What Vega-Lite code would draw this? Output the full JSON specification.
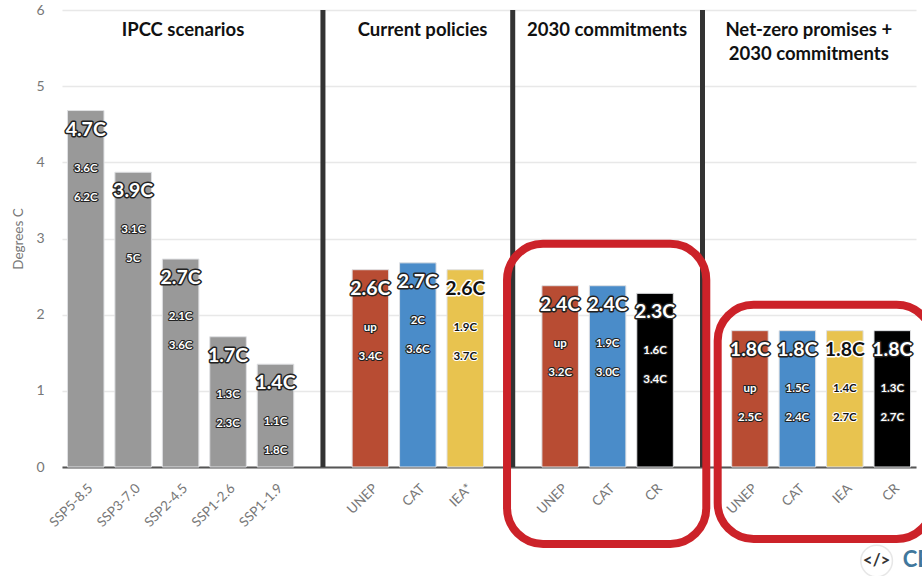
{
"$schema":"https://vega.github.io/schema/vega-lite/v6.json",
"width":854,"height":457,
"autosize":{"type":"none"},
"padding":{"left":62,"right":6,"top":10,"bottom":109},
"background":"white",
"config":{"view":{"stroke":null},"font":"Lato"},
"datasets":{
"bars":[
{"key":"ipcc|SSP5-8.5","src":"IPCC","v":4.68,"best":"4.7C","low":"3.6C","high":"6.2C"},
{"key":"ipcc|SSP3-7.0","src":"IPCC","v":3.87,"best":"3.9C","low":"3.1C","high":"5C"},
{"key":"ipcc|SSP2-4.5","src":"IPCC","v":2.73,"best":"2.7C","low":"2.1C","high":"3.6C"},
{"key":"ipcc|SSP1-2.6","src":"IPCC","v":1.71,"best":"1.7C","low":"1.3C","high":"2.3C"},
{"key":"ipcc|SSP1-1.9","src":"IPCC","v":1.35,"best":"1.4C","low":"1.1C","high":"1.8C"},
{"key":"cp|UNEP","src":"UNEP","v":2.59,"best":"2.6C","low":"up","high":"3.4C"},
{"key":"cp|CAT","src":"CAT","v":2.68,"best":"2.7C","low":"2C","high":"3.6C"},
{"key":"cp|IEA*","src":"IEA","v":2.59,"best":"2.6C","low":"1.9C","high":"3.7C"},
{"key":"c30|UNEP","src":"UNEP","v":2.38,"best":"2.4C","low":"up","high":"3.2C"},
{"key":"c30|CAT","src":"CAT","v":2.38,"best":"2.4C","low":"1.9C","high":"3.0C"},
{"key":"c30|CR","src":"CR","v":2.28,"best":"2.3C","low":"1.6C","high":"3.4C"},
{"key":"nz|UNEP","src":"UNEP","v":1.79,"best":"1.8C","low":"up","high":"2.5C"},
{"key":"nz|CAT","src":"CAT","v":1.79,"best":"1.8C","low":"1.5C","high":"2.4C"},
{"key":"nz|IEA","src":"IEA","v":1.79,"best":"1.8C","low":"1.4C","high":"2.7C"},
{"key":"nz|CR","src":"CR","v":1.79,"best":"1.8C","low":"1.3C","high":"2.7C"}
],
"seps":[{"key":"s1|","lo":0,"hi":6},{"key":"s2|","lo":0,"hi":6},{"key":"s3|","lo":0,"hi":6}],
"titles":[
{"p":2.05,"y":5.74,"t":"IPCC scenarios"},
{"p":7.1,"y":5.74,"t":"Current policies"},
{"p":10.99,"y":5.74,"t":"2030 commitments"},
{"p":15.24,"y":5.74,"t":"Net-zero promises +"},
{"p":15.24,"y":5.42,"t":"2030 commitments"}
],
"boxes":[
{"x0":8.88,"x1":13.08,"y0":-1.01,"y1":2.93},
{"x0":13.32,"x1":17.85,"y0":-0.945,"y1":2.13}
],
"logoMark":[{"p":16.67,"y":-1.234,"t":"</>"}],
"logoText":[{"p":17.22,"y":-1.225,"t":"CB"}]
},
"resolve":{"scale":{"x":"independent"}},
"layer":[
{"encoding":{
 "x":{"field":"key","type":"nominal","sort":null,"scale":{"domain":["ipcc|SSP5-8.5","ipcc|SSP3-7.0","ipcc|SSP2-4.5","ipcc|SSP1-2.6","ipcc|SSP1-1.9","s1|","cp|UNEP","cp|CAT","cp|IEA*","s2|","c30|UNEP","c30|CAT","c30|CR","s3|","nz|UNEP","nz|CAT","nz|IEA","nz|CR"],"paddingInner":0.23,"paddingOuter":0.115},
  "axis":{"title":null,"labelAngle":-45,"labelExpr":"split(datum.label,'|')[1]","ticks":false,"labelPadding":14,"labelFontSize":13.5,"labelColor":"#777","domainColor":"#555","domainWidth":2,"grid":false,"labelFont":"Lato"}}
 },
 "layer":[
 {"data":{"name":"bars"},"mark":{"type":"bar","stroke":"#dfe0e3","strokeWidth":1},
  "encoding":{
   "y":{"field":"v","type":"quantitative","scale":{"domain":[0,6],"nice":false},
    "axis":{"title":"Degrees C","titleColor":"#777","titleFontSize":13.5,"titleFontWeight":"normal","titlePadding":10,"values":[0,1,2,3,4,5,6],"format":"d","domain":false,"ticks":false,"labelPadding":18,"labelFontSize":14,"labelColor":"#777","gridColor":"#e8e8e8","gridWidth":1.5}},
   "color":{"field":"src","type":"nominal","legend":null,"scale":{"domain":["IPCC","UNEP","CAT","IEA","CR"],"range":["#999999","#b84c33","#4a8cc9","#e8c34f","#000000"]}}
  }},
 {"data":{"name":"seps"},"mark":{"type":"rule","color":"#333333","strokeWidth":5},
  "encoding":{"y":{"field":"lo","type":"quantitative"},"y2":{"field":"hi"}}},
 {"data":{"name":"bars"},"mark":{"type":"text","fontSize":19.5,"fontWeight":"bold","dy":19,"baseline":"middle","strokeWidth":3,"strokeJoin":"round"},
  "encoding":{"y":{"field":"v","type":"quantitative"},"text":{"field":"best"},"stroke":{"condition":{"test":"datum.src==='IEA'","value":"#ffffff"},"value":"#222222"},"fill":{"condition":{"test":"datum.src==='IEA'","value":"#ffffff"},"value":"#222222"}}},
 {"data":{"name":"bars"},"mark":{"type":"text","fontSize":19.5,"fontWeight":"bold","dy":19,"baseline":"middle"},
  "encoding":{"y":{"field":"v","type":"quantitative"},"text":{"field":"best"},"fill":{"condition":{"test":"datum.src==='IEA'","value":"#111111"},"value":"#ffffff"}}},
 {"data":{"name":"bars"},"mark":{"type":"text","fontSize":11.5,"fontWeight":"bold","dy":58,"baseline":"middle","strokeWidth":2.2,"strokeJoin":"round"},
  "encoding":{"y":{"field":"v","type":"quantitative"},"text":{"field":"low"},"stroke":{"condition":{"test":"datum.src==='IEA'","value":"#ffffff"},"value":"#222222"},"fill":{"condition":{"test":"datum.src==='IEA'","value":"#ffffff"},"value":"#222222"}}},
 {"data":{"name":"bars"},"mark":{"type":"text","fontSize":11.5,"fontWeight":"bold","dy":58,"baseline":"middle"},
  "encoding":{"y":{"field":"v","type":"quantitative"},"text":{"field":"low"},"fill":{"condition":{"test":"datum.src==='IEA'","value":"#111111"},"value":"#ffffff"}}},
 {"data":{"name":"bars"},"mark":{"type":"text","fontSize":11.5,"fontWeight":"bold","dy":87,"baseline":"middle","strokeWidth":2.2,"strokeJoin":"round"},
  "encoding":{"y":{"field":"v","type":"quantitative"},"text":{"field":"high"},"stroke":{"condition":{"test":"datum.src==='IEA'","value":"#ffffff"},"value":"#222222"},"fill":{"condition":{"test":"datum.src==='IEA'","value":"#ffffff"},"value":"#222222"}}},
 {"data":{"name":"bars"},"mark":{"type":"text","fontSize":11.5,"fontWeight":"bold","dy":87,"baseline":"middle"},
  "encoding":{"y":{"field":"v","type":"quantitative"},"text":{"field":"high"},"fill":{"condition":{"test":"datum.src==='IEA'","value":"#111111"},"value":"#ffffff"}}}
 ]
},
{"layer":[
 {"data":{"name":"titles"},"mark":{"type":"text","fontSize":18.5,"fontWeight":"bold","color":"#111111","baseline":"middle"},
  "encoding":{"x":{"field":"p","type":"quantitative","scale":{"domain":[-0.5,17.5],"nice":false,"zero":false},"axis":null},"y":{"field":"y","type":"quantitative"},"text":{"field":"t"}}},
 {"data":{"name":"boxes"},"mark":{"type":"rect","fill":"transparent","stroke":"#cc2229","strokeWidth":8,"cornerRadius":36},
  "encoding":{"x":{"field":"x0","type":"quantitative"},"x2":{"field":"x1"},"y":{"field":"y0","type":"quantitative"},"y2":{"field":"y1"}}},
 {"data":{"name":"logoMark"},"mark":{"type":"point","shape":"circle","size":1000,"stroke":"#dddddd","strokeWidth":1.5,"filled":false},
  "encoding":{"x":{"field":"p","type":"quantitative"},"y":{"field":"y","type":"quantitative"}}},
 {"data":{"name":"logoMark"},"mark":{"type":"text","fontSize":17,"fontWeight":"bold","color":"#333333","baseline":"middle"},
  "encoding":{"x":{"field":"p","type":"quantitative"},"y":{"field":"y","type":"quantitative"},"text":{"field":"t"}}},
 {"data":{"name":"logoText"},"mark":{"type":"text","fontSize":22,"fontWeight":"bold","color":"#41779c","baseline":"middle","align":"left"},
  "encoding":{"x":{"field":"p","type":"quantitative"},"y":{"field":"y","type":"quantitative"},"text":{"field":"t"}}}
]}
]
}
